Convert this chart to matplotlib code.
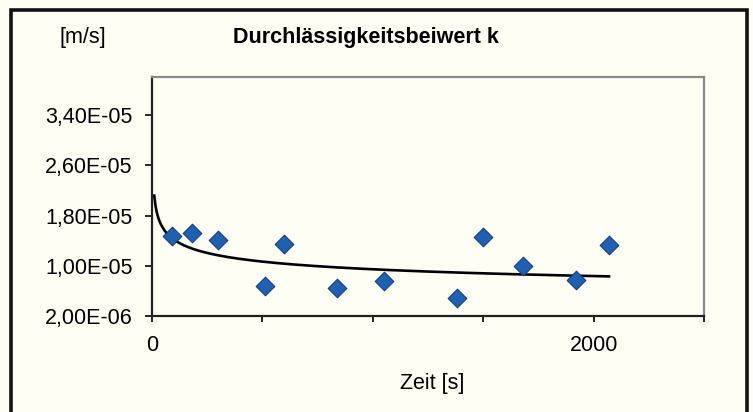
import numpy as np
import matplotlib.pyplot as plt
from matplotlib.patches import Rectangle
from matplotlib.ticker import FixedLocator, FuncFormatter

plt.rcParams['font.family'] = ['Liberation Sans', 'DejaVu Sans']

# measured values: time [s] and permeability coefficient k [m/s]
zeit = [90, 180, 300, 510, 600, 840, 1050, 1380, 1500, 1680, 1920, 2070]
k_wert = [1.48e-5, 1.52e-5, 1.41e-5, 0.68e-5, 1.35e-5, 0.64e-5,
          0.76e-5, 0.48e-5, 1.46e-5, 1.00e-5, 0.77e-5, 1.33e-5]

y_ticks = [2.0e-6, 1.0e-5, 1.8e-5, 2.6e-5, 3.4e-5]
x_labels = {0: '0', 2000: '2000'}

bg = '#fffef4'
fig = plt.figure(figsize=(7.53, 4.12), dpi=100, facecolor=bg)
ax = fig.add_axes([0.2019, 0.233, 0.733, 0.579], facecolor=bg)

# power trendline (as Excel does it), fitted to the data
b, ln_a = np.polyfit(np.log(zeit), np.log(k_wert), 1)
t = np.linspace(10, max(zeit), 400)
ax.plot(t, np.exp(ln_a) * t ** b, color='black', lw=1.9, zorder=2)

ax.scatter(zeit, k_wert, marker='D', s=90, color='#2060b0',
           edgecolors='#163f80', linewidths=0.8, zorder=3)

ax.set_xlim(0, 2500)
ax.set_ylim(2.0e-6, 4.0e-5)
ax.xaxis.set_major_locator(FixedLocator(np.arange(0, 2501, 500)))
ax.xaxis.set_major_formatter(FuncFormatter(lambda v, p: x_labels.get(int(round(v)), '')))
ax.yaxis.set_major_locator(FixedLocator(y_ticks))
ax.yaxis.set_major_formatter(FuncFormatter(lambda v, p: ('%.2E' % v).replace('.', ',')))
ax.tick_params(axis='x', length=4, width=1.2, pad=10, labelsize=15.5)
ax.tick_params(axis='y', length=5, width=1.2, pad=9, labelsize=15.5)

for side in ('left', 'bottom'):
    ax.spines[side].set_color('#222222')
    ax.spines[side].set_linewidth(1.6)
for side in ('top', 'right'):
    ax.spines[side].set_color('#8a8a8a')
    ax.spines[side].set_linewidth(1.6)

fig.text(83 / 753, 1 - 37 / 412, '[m/s]', ha='center', va='center', fontsize=15.5)
fig.text(366 / 753, 1 - 37 / 412, 'Durchlässigkeitsbeiwert k', ha='center', va='center',
         fontsize=15.5, fontweight='bold')
fig.text(432 / 753, 1 - 384 / 412, 'Zeit [s]', ha='center', va='center', fontsize=15.5)

# outer chart frame (bottom edge lies below the scan)
fig.patches.append(Rectangle((11 / 753, -0.1), 736 / 753, 1.1 - 10 / 412,
                             transform=fig.transFigure, fill=False,
                             edgecolor='#111111', lw=2.6, clip_on=False))

fig.savefig('out.png', dpi=100, facecolor=bg)
